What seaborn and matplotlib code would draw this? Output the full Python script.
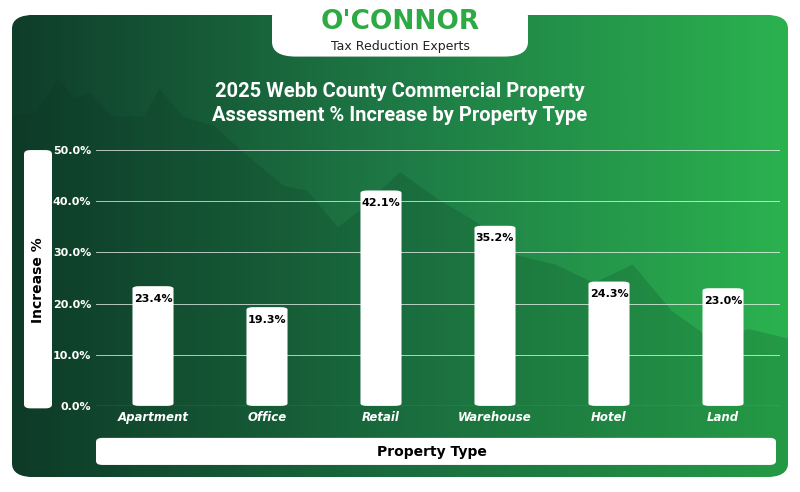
import numpy as np
import matplotlib.pyplot as plt
import seaborn as sns
from matplotlib.patches import FancyBboxPatch, Polygon
from matplotlib.colors import LinearSegmentedColormap

categories = ["Apartment", "Office", "Retail", "Warehouse", "Hotel", "Land"]
increase = [23.4, 19.3, 42.1, 35.2, 24.3, 23.0]
yticks = [0, 10, 20, 30, 40, 50]

fig = plt.figure(figsize=(8, 4.92), dpi=100)
fig.patch.set_facecolor("white")

# gradient background
bg = fig.add_axes([0.015, 0.03, 0.97, 0.94])
bg.set_axis_off()
grad = np.linspace(0, 1, 400)[None, :] * np.ones((100, 1))
cmap = LinearSegmentedColormap.from_list("g", ["#0f3d2a", "#1e7a45", "#2bb24f"])
im = bg.imshow(grad, cmap=cmap, aspect="auto", extent=[0, 1, 0, 1])
clip = FancyBboxPatch((0, 0), 1, 1, boxstyle="round,pad=0,rounding_size=0.03",
                      transform=bg.transAxes, facecolor="none", edgecolor="none")
bg.add_patch(clip)
im.set_clip_path(clip)
bg.set_xlim(0, 1)
bg.set_ylim(0, 1)
# faint mountain silhouette
mx = [0, 0.03, 0.06, 0.08, 0.1, 0.13, 0.17, 0.19, 0.22, 0.26, 0.3, 0.35, 0.38, 0.42, 0.45, 0.5, 0.55, 0.6, 0.65, 0.7, 0.75, 0.8, 0.85, 0.9, 0.95, 1.0, 1.0, 0]
my = [0.78, 0.79, 0.86, 0.82, 0.83, 0.78, 0.78, 0.84, 0.78, 0.76, 0.7, 0.63, 0.62, 0.54, 0.58, 0.66, 0.6, 0.55, 0.48, 0.46, 0.42, 0.46, 0.36, 0.3, 0.32, 0.3, 0.0, 0.0]
poly = Polygon(list(zip(mx, my)), closed=True, facecolor="#0a3020", alpha=0.18, edgecolor="none", zorder=2)
bg.add_patch(poly)
poly.set_clip_path(clip)

# logo tab
fig.patches.append(FancyBboxPatch((0.34, 0.885), 0.32, 0.11, boxstyle="round,pad=0,rounding_size=0.03",
                                  transform=fig.transFigure, facecolor="white", edgecolor="none"))
fig.text(0.5, 0.955, "O'CONNOR", ha="center", va="center", fontsize=19, fontweight="bold", color="#2eaa45", family="DejaVu Sans")
fig.text(0.5, 0.905, "Tax Reduction Experts", ha="center", va="center", fontsize=9, color="#222222", family="DejaVu Sans")

fig.text(0.5, 0.79, "2025 Webb County Commercial Property\nAssessment % Increase by Property Type",
         ha="center", va="center", fontsize=14.5, fontweight="bold", color="white", family="Roboto", linespacing=1.3)

ax = fig.add_axes([0.12, 0.175, 0.855, 0.52])
ax.set_facecolor("none")
sns.barplot(x=categories, y=increase, color="white", width=0.36, ax=ax, zorder=3)
for p in list(ax.patches):
    x, w, h = p.get_x(), p.get_width(), p.get_height()
    p.remove()
    ax.add_patch(FancyBboxPatch((x, 0), w, h, boxstyle="round,pad=0,rounding_size=0.06",
                                mutation_aspect=8, facecolor="white", edgecolor="none", zorder=3))
    ax.text(x + w / 2, h - 1.5, f"{h:.1f}%", ha="center", va="top", fontsize=8, fontweight="bold", color="black", zorder=4)
ax.set_ylim(0, 50)
ax.set_yticks(yticks)
ax.set_yticklabels([f"{v:.1f}%" for v in yticks], color="white", fontsize=8, fontweight="bold")
ax.set_xticks(range(len(categories)))
ax.set_xticklabels(categories, color="white", fontsize=8.5, fontweight="bold", style="italic")
ax.tick_params(length=0)
ax.grid(axis="y", color="white", linewidth=0.6, alpha=0.8, zorder=0)
for s in ax.spines.values():
    s.set_visible(False)
ax.axhline(0, color="white", linewidth=0.8, zorder=2)
ax.set_xlabel("")
ax.set_ylabel("")

# label boxes
fig.patches.append(FancyBboxPatch((0.03, 0.17), 0.035, 0.525, boxstyle="round,pad=0,rounding_size=0.008",
                                  transform=fig.transFigure, facecolor="white", edgecolor="none"))
fig.text(0.0475, 0.43, "Increase %", rotation=90, ha="center", va="center", fontsize=10, fontweight="bold")
fig.patches.append(FancyBboxPatch((0.12, 0.055), 0.85, 0.055, boxstyle="round,pad=0,rounding_size=0.008",
                                  transform=fig.transFigure, facecolor="white", edgecolor="none"))
fig.text(0.54, 0.082, "Property Type", ha="center", va="center", fontsize=10, fontweight="bold")

fig.savefig("out.png", dpi=100)
